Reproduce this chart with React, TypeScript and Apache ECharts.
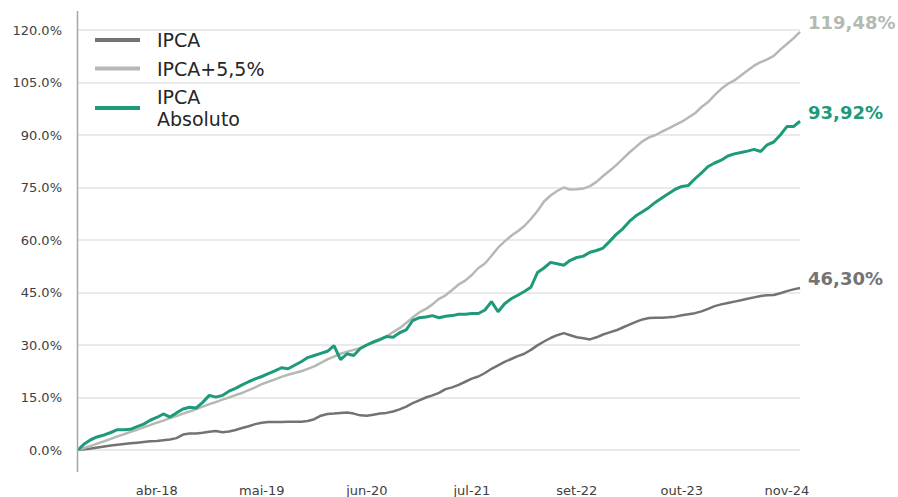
import React, { useEffect, useRef } from "react";
import * as echarts from "echarts";

const tickLabels = ["abr-18", "mai-19", "jun-20", "jul-21", "set-22", "out-23", "nov-24"];
const tickIndex = [12, 28, 44, 60, 76, 92, 108];

const seriesNames = ["IPCA", "IPCA+5,5%", "IPCA Absoluto"];
const endLabels = ["46,30%", "119,48%", "93,92%"];

const ipca = [
  0, 0.2, 0.4, 0.7, 1.0, 1.3, 1.5, 1.7, 1.9, 2.1,
  2.3, 2.5, 2.6, 2.8, 3.0, 3.4, 4.4, 4.7, 4.7, 4.9,
  5.2, 5.4, 5.1, 5.3, 5.7, 6.3, 6.8, 7.4, 7.8, 8.0,
  8.0, 8.0, 8.1, 8.1, 8.1, 8.3, 8.8, 9.8, 10.3, 10.4,
  10.6, 10.7, 10.4, 9.9, 9.8, 10.1, 10.4, 10.6, 11.0, 11.6,
  12.4, 13.4, 14.2, 15.0, 15.6, 16.3, 17.4, 17.9, 18.6, 19.5,
  20.4, 21.0, 22.0, 23.2, 24.2, 25.2, 26.0, 26.8, 27.5, 28.6,
  29.9, 31.0, 32.0, 32.8, 33.4, 32.8, 32.2, 31.9, 31.6, 32.2,
  33.0, 33.6, 34.2, 35.0, 35.8, 36.6, 37.3, 37.7, 37.8, 37.8,
  37.9, 38.1, 38.5, 38.8, 39.1, 39.6, 40.3, 41.1, 41.6, 42.0,
  42.4, 42.8, 43.2, 43.6, 44.0, 44.2, 44.3, 44.8, 45.4, 45.9,
  46.3,
];

const ipca55 = [
  0, 0.6, 1.2, 1.9, 2.5, 3.2, 3.9, 4.5, 5.2, 5.8,
  6.5, 7.1, 7.8, 8.4, 9.1, 9.7, 10.4, 11.0, 11.7, 12.4,
  13.1, 13.7, 14.4, 15.0, 15.7, 16.3, 17.1, 17.9, 18.8, 19.5,
  20.2, 20.9, 21.5, 22.0, 22.5, 23.2, 23.9, 24.9, 25.9, 26.7,
  27.5, 28.1, 28.6, 29.1, 30.0, 30.6, 31.4, 32.5, 33.7, 34.8,
  36.3, 37.9, 39.3, 40.3, 41.6, 43.2, 44.2, 45.7, 47.3, 48.4,
  50.0, 52.0, 53.3, 55.5, 57.8, 59.6, 61.2, 62.5, 64.0, 66.0,
  68.3, 71.0, 72.7, 74.0, 75.0, 74.4, 74.5, 74.7, 75.4, 76.6,
  78.3, 79.8, 81.4, 83.2, 85.0, 86.6, 88.2, 89.3, 90.0, 91.0,
  91.9, 92.9, 93.8, 95.0, 96.2, 98.0, 99.4, 101.4, 103.2, 104.6,
  105.6, 107.0, 108.4, 109.8, 110.8, 111.6, 112.6, 114.4, 116.0, 117.6,
  119.48,
];

const ipcaAbs = [
  0, 1.8, 3.0, 3.8, 4.3, 5.0, 5.8, 5.8, 5.9, 6.7,
  7.4, 8.5, 9.3, 10.3, 9.4, 10.6, 11.7, 12.2, 12.0, 13.6,
  15.6, 15.1, 15.6, 16.8, 17.6, 18.6, 19.5, 20.3, 21.0, 21.8,
  22.6, 23.5, 23.2, 24.2, 25.2, 26.4, 27.0, 27.6, 28.2, 29.8,
  25.8, 27.5, 27.0, 29.0, 30.0, 30.9, 31.6, 32.4, 32.2, 33.5,
  34.3, 37.0, 37.8, 38.0, 38.4, 37.8, 38.2, 38.4, 38.8, 38.8,
  39.0, 39.0, 40.0, 42.4, 39.5, 41.8, 43.2, 44.2, 45.3, 46.5,
  50.7, 52.0, 53.6, 53.2, 52.8, 54.2, 55.0, 55.4, 56.5, 57.0,
  57.7, 59.6, 61.6, 63.2, 65.3, 66.9, 68.1, 69.3, 70.8, 72.1,
  73.3, 74.5, 75.3, 75.6, 77.5, 79.2, 81.0, 82.0, 82.8, 84.0,
  84.6, 85.0, 85.4, 85.9, 85.3, 87.2, 88.0, 90.0, 92.4, 92.4,
  93.92,
];

const colors = ["#737373", "#b4bab2", "#1e9a7b"];
const widths = [2.5, 2.5, 3];

export default function App() {
  const ref = useRef<HTMLDivElement>(null);

  useEffect(() => {
    if (!ref.current) return;
    const chart = echarts.init(ref.current, undefined, { renderer: "svg" });
    const categories = ipca.map((_, i) => {
      const k = tickIndex.indexOf(i);
      return k >= 0 ? tickLabels[k] : "p" + i;
    });
    const dataSets = [ipca, ipca55, ipcaAbs];
    const font = "'DejaVu Sans', Verdana, sans-serif";

    chart.setOption({
      animation: false,
      textStyle: { fontFamily: font },
      grid: { left: 78, right: 98, top: 30, bottom: 47, containLabel: false },
      legend: {
        orient: "vertical",
        left: 90,
        top: 24,
        itemWidth: 45,
        itemHeight: 4,
        itemGap: 6.5,
        icon: "rect",
        data: seriesNames,
        formatter: (name: string) => name.replace(" ", "\n"),
        textStyle: {
          fontFamily: font,
          fontSize: 19,
          color: "#262626",
          lineHeight: 22,
          padding: [0, 0, 0, 12],
        },
      },
      xAxis: {
        type: "category",
        boundaryGap: false,
        data: categories,
        axisLine: { show: false },
        axisTick: { show: false },
        splitLine: { show: false },
        axisLabel: {
          interval: (index: number) => tickIndex.indexOf(index) >= 0,
          margin: 34,
          fontSize: 13,
          color: "#404040",
          fontFamily: font,
        },
      },
      yAxis: {
        type: "value",
        min: 0,
        max: 120,
        interval: 15,
        axisLine: { show: false },
        axisTick: { show: false },
        axisLabel: {
          formatter: (v: number) => v.toFixed(1) + "%",
          fontSize: 13,
          color: "#404040",
          margin: 16,
          fontFamily: font,
        },
        splitLine: { lineStyle: { color: "#e3e3e3", width: 1.5 } },
      },
      graphic: [
        {
          type: "line",
          shape: { x1: 77.5, y1: 11, x2: 77.5, y2: 472 },
          style: { stroke: "#a6a6a6", lineWidth: 1.5 },
          z: 10,
        },
      ],
      series: dataSets.map((d, k) => ({
        name: seriesNames[k],
        type: "line",
        data: d,
        showSymbol: false,
        symbol: "none",
        color: colors[k],
        lineStyle: { color: colors[k], width: widths[k] },
        z: 3 + k,
        endLabel: {
          show: true,
          formatter: () => endLabels[k],
          color: colors[k],
          fontSize: 18,
          fontWeight: "bold",
          fontFamily: font,
          distance: 8,
          offset: [0, -9],
        },
      })),
    });

    return () => chart.dispose();
  }, []);

  return (
    <div
      ref={ref}
      style={{ position: "fixed", left: 0, top: 0, width: 898, height: 497, background: "#fff" }}
    />
  );
}
